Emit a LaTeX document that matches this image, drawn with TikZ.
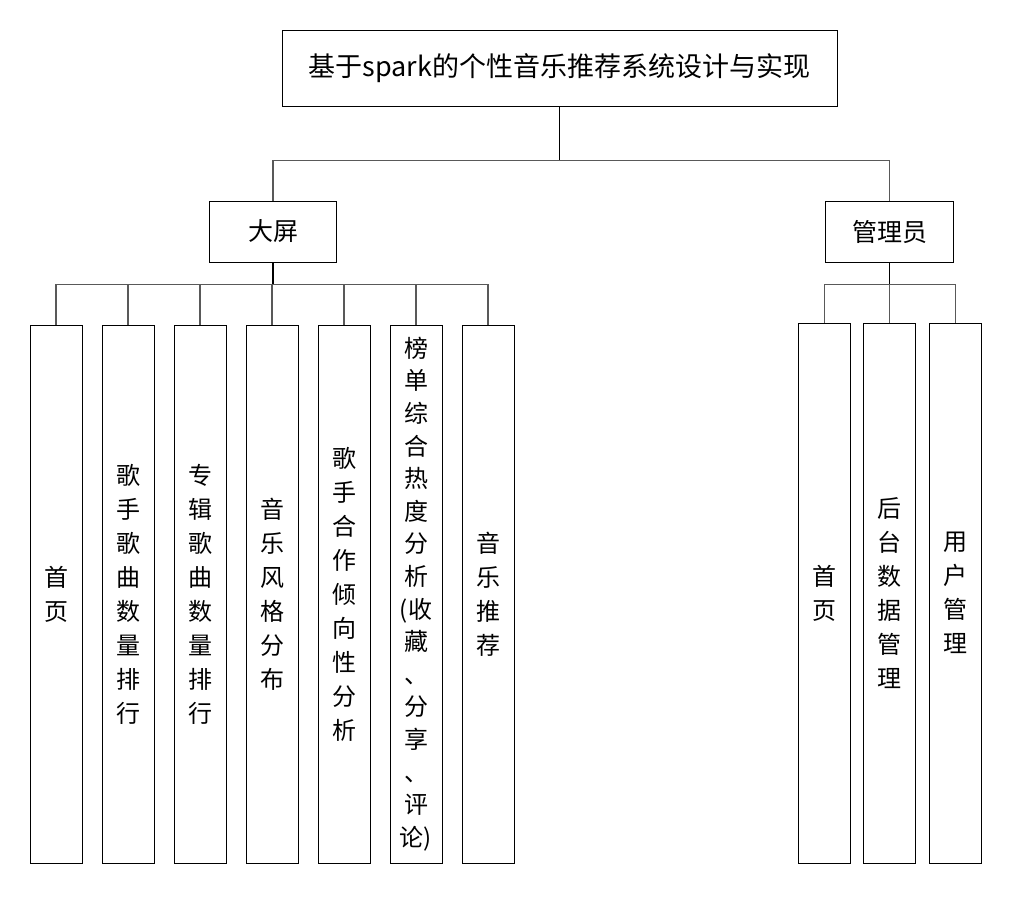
\documentclass[tikz,border=0pt]{standalone}
\usepackage{fontspec}
\newfontfamily\cjk{Noto Sans CJK SC}
\usetikzlibrary{positioning}
\begin{document}
\begin{tikzpicture}[x=1pt,y=-1pt,
  box/.style={draw, line width=1pt, inner sep=0pt, align=center,
    font=\cjk\fontsize{24}{34}\selectfont},
  leaf/.style={box, minimum width=52pt, minimum height=538pt},
  plain/.style={},
  tight/.style={font=\cjk\fontsize{24}{32.6}\selectfont},
  link/.style={draw=black!65, line width=1.2pt},
  trunk/.style={line width=1.5pt}]
  \useasboundingbox (0,0) rectangle (1012,897);

  % Top box
  \node[box, minimum width=555pt, minimum height=76pt,
    font=\cjk\fontsize{27}{30}\selectfont] (title) at (559.5,68)
    {基于spark的个性音乐推荐系统设计与实现};

  % Second level
  \node[box, minimum width=127pt, minimum height=61pt,
    font=\cjk\fontsize{25}{30}\selectfont] (screen) at (273,231.5) {大屏};
  \node[box, minimum width=128pt, minimum height=61pt,
    font=\cjk\fontsize{25}{30}\selectfont] (admin) at (889.5,231.5) {管理员};

  % Big screen pages
  \foreach \i/\x/\sty/\txt in {1/56/plain/{首\\页},
      2/128/plain/{歌\\手\\歌\\曲\\数\\量\\排\\行},
      3/200/plain/{专\\辑\\歌\\曲\\数\\量\\排\\行},
      4/272/plain/{音\\乐\\风\\格\\分\\布},
      5/344/plain/{歌\\手\\合\\作\\倾\\向\\性\\分\\析},
      6/416/tight/{榜\\单\\综\\合\\热\\度\\分\\析\\(收\\藏\\、\\分\\享\\、\\评\\论)},
      7/488/plain/{音\\乐\\推\\荐}}
    \node[leaf, \sty] (s\i) at (\x,594) {\txt};

  % Admin pages
  \foreach \i/\x/\txt in {1/824.5/{首\\页},
      2/889.5/{后\\台\\数\\据\\管\\理},
      3/955.5/{用\\户\\管\\理}}
    \node[leaf, minimum height=540pt] (a\i) at (\x,593) {\txt};

  % Connectors
  \draw[trunk] (title.south) -- ++(0,54) coordinate (split);
  \draw[link] (screen.north) |- (split) -| (admin.north);

  \draw[trunk] (screen.south) -- ++(0,22) coordinate (sbar);
  \draw[link] (s1.north) |- (sbar -| s7.north) -- (s7.north);
  \foreach \i in {2,...,6}
    \draw[link] (s\i.north) -- (s\i.north |- sbar);

  \draw[trunk] (admin.south) -- ++(0,22) coordinate (abar);
  \draw[link] (a1.north) |- (abar -| a3.north) -- (a3.north);
  \draw[link] (a2.north) -- (a2.north |- abar);
\end{tikzpicture}
\end{document}
